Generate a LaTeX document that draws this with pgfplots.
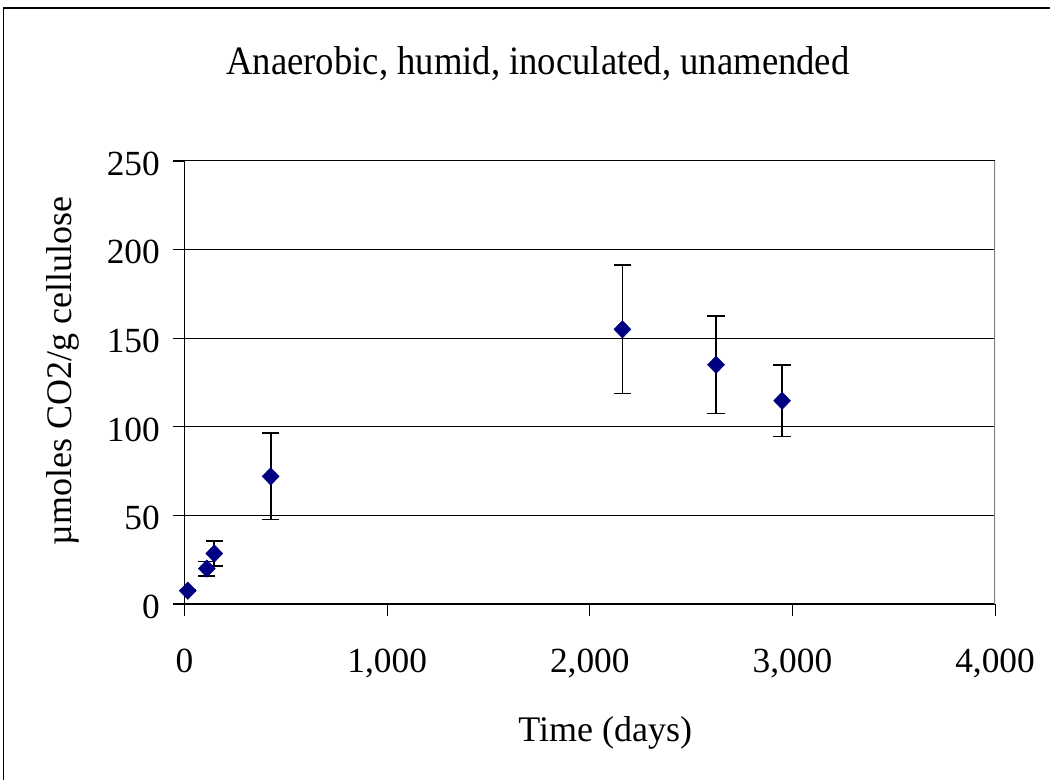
\documentclass[border=0pt]{standalone}
\usepackage{fontspec}
\setmainfont{Liberation Serif}
\usepackage{graphicx}
\usepackage{pgfplots}
\pgfplotsset{compat=1.18}
\definecolor{navy}{RGB}{0,0,128}
\pgfplotstableread{
x y e
16 7.5 0.5
110 20 4
147 28.5 6.9
425 72 24.3
2161 155 36.2
2623 135 27.5
2949 114.7 20.2
}\mydata
\begin{document}
\begin{tikzpicture}[x=1pt,y=1pt]
\useasboundingbox (0,0) rectangle (787.5,585);
\draw[black, line width=1.1pt] (2.6,-20) rectangle (820,579);
\begin{axis}[
  at={(138.4pt,132pt)}, anchor=south west,
  scale only axis, width=607.9pt, height=332.25pt,
  xmin=0, xmax=4000, ymin=0, ymax=250,
  xtick={0,1000,...,4000}, ytick={0,50,...,250},
  axis x line*=bottom, axis y line*=left,
  xtick pos=bottom, ytick pos=left,
  axis line style={black, line width=0.9pt, -},
  tick align=outside, major tick length=9pt,
  tick style={black, line width=0.8pt},
  ymajorgrids, grid style={black, line width=0.75pt},
  /pgf/number format/.cd, 1000 sep={,}, assume math mode=true, /pgfplots/.cd,
  tick label style={font=\fontsize{26.5}{30}\selectfont},
  xticklabel style={yshift=-21pt},
  yticklabel style={xshift=-6pt, yshift=-2pt},
  title={\scalebox{1}[1.1]{Anaerobic, humid, inoculated, unamended}},
  title style={at={(axis description cs:0.436,1.178)}, anchor=base, font=\fontsize{27.5}{32}\selectfont},
  xlabel={Time (days)},
  xlabel style={at={(axis description cs:0.519,-0.31)}, anchor=base, font=\fontsize{27}{32}\selectfont},
  ylabel={µmoles CO2/g cellulose},
  ylabel style={at={(axis description cs:-0.15,0.526)}, anchor=center, font=\fontsize{27}{32}\selectfont},
]
\draw[gray, line width=0.9pt] (rel axis cs:1,0) -- (rel axis cs:1,1);
\addplot[only marks, mark=diamond*, mark size=6.5pt, color=navy,
  mark options={xscale=1.3, fill=navy, draw=navy},
  error bars/.cd, y dir=both, y explicit,
  error bar style={black, line width=1.3pt},
  error mark options={rotate=90, mark size=6.5pt, black, line width=1.3pt}]
  table[x=x, y=y, y error=e] {\mydata};
\end{axis}
\end{tikzpicture}
\end{document}
